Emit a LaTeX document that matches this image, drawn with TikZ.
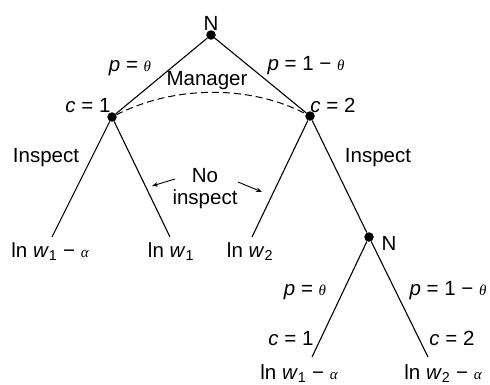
\documentclass[tikz,border=0pt]{standalone}
\usepackage{fontspec}
\setmainfont{Liberation Sans}
\newfontfamily\grkfont{Liberation Serif}
\usetikzlibrary{arrows.meta}
\newcommand{\sth}{{\grkfont\itshape\fontsize{15}{15}\selectfont θ}}
\newcommand{\sal}{{\grkfont\itshape\fontsize{15}{15}\selectfont α}}
\newcommand{\vw}[1]{\textit{w}\textsubscript{#1}}
\newcommand{\mn}{−}
\begin{document}
\begin{tikzpicture}[x=1pt,y=-1pt,
  dot/.style={circle,fill,inner sep=0pt,minimum size=9.5pt},
  lbl/.style={font=\fontsize{20.5}{22}\selectfont,inner sep=0pt,anchor=base},
  branch/.style={line width=1.1pt},
  infoset/.style={line width=1pt,dash pattern=on 7pt off 4pt},
  pointer/.style={line width=0.9pt,-{Stealth[length=6pt,width=4.5pt]}}]
\useasboundingbox (0,0) rectangle (490,384);
% decision nodes
\node[dot] (n0) at (211,35) {};
\node[dot] (c1) at (112,117) {};
\node[dot] (c2) at (310,116) {};
\node[dot] (n2) at (369,237) {};
% branch ends
\coordinate (e1) at (52,237);
\coordinate (e2) at (170,237);
\coordinate (e3) at (252,237);
\coordinate (e4) at (312,357);
\coordinate (e5) at (428,357);
% branches
\draw[branch] (n0) -- (c1);
\draw[branch] (n0) -- (c2);
\draw[branch] (c1) -- (e1);
\draw[branch] (c1) -- (e2);
\draw[branch] (c2) -- (e3);
\draw[branch] (c2) -- (n2);
\draw[branch] (n2) -- (e4);
\draw[branch] (n2) -- (e5);
% information set
\draw[infoset] (c1) .. controls (175,85) and (250,85) .. (c2);
% labels
\node[lbl] (tN0) at (211,30) {N};
\node[lbl] (tp1) at (130,71) {\textit{p} = \sth};
\node[lbl] (tp2) at (306,70) {\textit{p} = 1 \mn{} \sth};
\node[lbl] (tman) at (207,85) {Manager};
\node[lbl] (tc1) at (88,112) {\textit{c} = 1};
\node[lbl] (tc2) at (333,112) {\textit{c} = 2};
\node[lbl] (tins1) at (46,162) {Inspect};
\node[lbl] (tins2) at (378,162) {Inspect};
\node[lbl] (tno) at (205,182) {No};
\node[lbl] (tnoi) at (205,204) {inspect};
\node[lbl] (tN2) at (389,250) {N};
\node[lbl] (tp3) at (305,295) {\textit{p} = \sth};
\node[lbl] (tp4) at (448,295) {\textit{p} = 1 \mn{} \sth};
\node[lbl] (tc3) at (291,345) {\textit{c} = 1};
\node[lbl] (tc4) at (452,345) {\textit{c} = 2};
% payoffs
\node[lbl] (u1) at (50,257) {ln \vw{1} \mn{} \sal};
\node[lbl] (u2) at (171,257) {ln \vw{1}};
\node[lbl] (u3) at (250,257) {ln \vw{2}};
\node[lbl] (u4) at (299,379) {ln \vw{1} \mn{} \sal};
\node[lbl] (u5) at (443,379) {ln \vw{2} \mn{} \sal};
% pointers
\coordinate (a1s) at (175,179);
\coordinate (a1e) at (152,186);
\coordinate (a2s) at (238,182);
\coordinate (a2e) at (262,192);
\draw[pointer] (a1s) -- (a1e);
\draw[pointer] (a2s) -- (a2e);
\end{tikzpicture}
\end{document}
